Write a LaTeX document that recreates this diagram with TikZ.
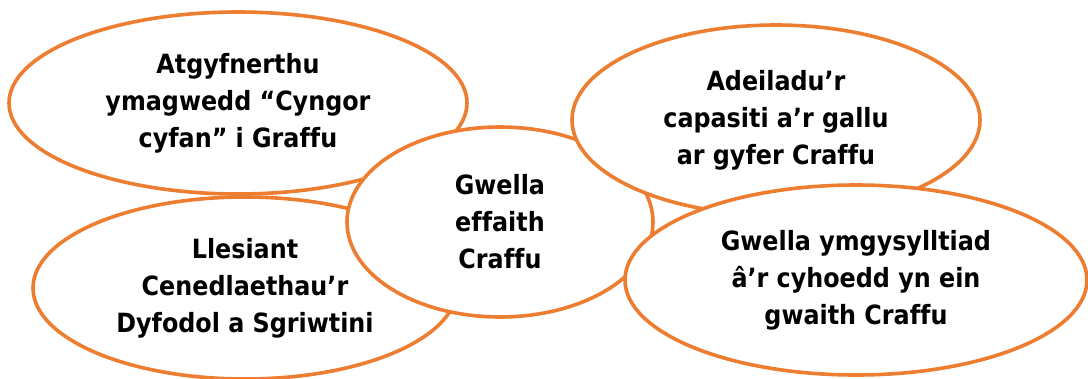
\documentclass[tikz,border=0pt]{standalone}
\usepackage{fontspec}
\setmainfont[Ligatures={NoCommon}]{DejaVu Sans Condensed}
\usetikzlibrary{shapes.geometric}
\definecolor{accent}{HTML}{ED7D31}
\tikzset{
  bubble/.style={ellipse, draw=accent, line width=3.6pt, fill=white, inner sep=0pt,
    align=center, font=\fontsize{26.5}{37}\selectfont\bfseries}
}
\begin{document}
\begin{tikzpicture}[x=1pt,y=-1pt]
\useasboundingbox (0,0) rectangle (1088,378);
\node[bubble, minimum width=458pt, minimum height=182pt] (tl) at (238,103)
  {Atgyfnerthu\\ymagwedd “Cyngor\\cyfan” i Graffu};
\node[bubble, minimum width=424pt, minimum height=182pt] (bl) at (245,288)
  {Llesiant\\Cenedlaethau’r\\Dyfodol a Sgriwtini};
\node[bubble, minimum width=306pt, minimum height=190pt] (c) at (500,222)
  {Gwella\\effaith\\Craffu};
\node[bubble, minimum width=408pt, minimum height=190pt] (tr) at (776,120)
  {Adeiladu’r\\capasiti a’r gallu\\ar gyfer Craffu};
\node[bubble, minimum width=462pt, minimum height=190pt] (br) at (856,280)
  {Gwella ymgysylltiad\\â’r cyhoedd yn ein\\gwaith Craffu};
\end{tikzpicture}
\end{document}
